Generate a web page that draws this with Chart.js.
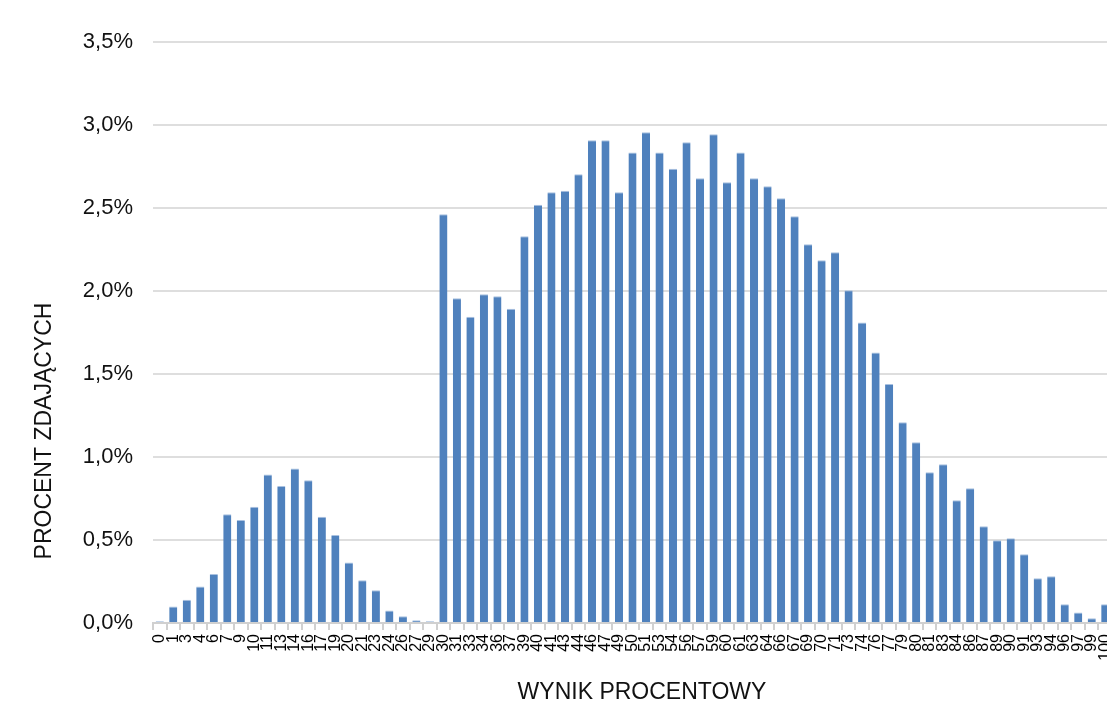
<!DOCTYPE html>
<html lang="pl">
<head>
<meta charset="utf-8">
<title>Wynik procentowy</title>
<script src="https://cdn.jsdelivr.net/npm/chart.js@4/dist/chart.umd.min.js"></script>
<style>
  html, body { margin: 0; padding: 0; background: #fff; overflow: hidden; }
  #wrap { position: relative; width: 1112px; height: 725px; }
</style>
</head>
<body>
<div id="wrap"><canvas id="chart"></canvas></div>
<script>
// wyniki procentowe (kategorie osi X)
const scores = [
  '0', '1', '3', '4', '6', '7', '9', '10', '11', '13', '14', '16', '17', '19',
  '20', '21', '23', '24', '26', '27', '29', '30', '31', '33', '34', '36', '37', '39',
  '40', '41', '43', '44', '46', '47', '49', '50', '51', '53', '54', '56', '57', '59',
  '60', '61', '63', '64', '66', '67', '69', '70', '71', '73', '74', '76', '77', '79',
  '80', '81', '83', '84', '86', '87', '89', '90', '91', '93', '94', '96', '97', '99',
  '100',
];

// procent zdających dla każdego wyniku
const shares = [
  0.01, 0.10, 0.14, 0.22, 0.295, 0.655, 0.62, 0.70, 0.895, 0.825, 0.93, 0.86, 0.64, 0.53,
  0.365, 0.257, 0.197, 0.076, 0.04, 0.016, 0.01, 2.462, 1.956, 1.845, 1.98, 1.968, 1.893, 2.33,
  2.52, 2.595, 2.604, 2.703, 2.908, 2.908, 2.595, 2.835, 2.956, 2.835, 2.737, 2.896, 2.679, 2.944,
  2.655, 2.835, 2.679, 2.631, 2.558, 2.45, 2.281, 2.185, 2.233, 2.004, 1.81, 1.63, 1.44, 1.209,
  1.089, 0.908, 0.956, 0.739, 0.811, 0.583, 0.498, 0.51, 0.414, 0.269, 0.281, 0.113, 0.064, 0.028,
  0.113,
];

// oś Y
const yMax = 3.5;
const yStep = 0.5;

const xTitle = 'WYNIK PROCENTOWY';
const yTitle = 'PROCENT ZDAJĄCYCH';

const textFont = "'Liberation Sans', Arial, sans-serif";

// Tytuły osi rysowane w stałych miejscach (jak w oryginale)
const axisTitles = {
  id: 'axisTitles',
  afterDraw(chart) {
    const { ctx } = chart;
    ctx.save();
    ctx.fillStyle = '#111';
    ctx.font = `23px ${textFont}`;
    ctx.textAlign = 'center';
    ctx.textBaseline = 'middle';
    ctx.fillText(xTitle, 642, 693);
    ctx.translate(45, 431);
    ctx.rotate(-Math.PI / 2);
    ctx.fillText(yTitle, 0, 0);
    ctx.restore();
  },
};

new Chart(document.getElementById('chart'), {
  type: 'bar',
  data: {
    labels: scores,
    datasets: [
      {
        data: shares,
        backgroundColor: '#4f81bd',
        borderColor: '#a9c1e0',
        borderWidth: { top: 1, right: 0, bottom: 0, left: 0 },
        borderSkipped: 'start',
        barPercentage: 0.6,
        categoryPercentage: 1,
      },
    ],
  },
  options: {
    responsive: true,
    maintainAspectRatio: false,
    animation: false,
    layout: {
      padding: { top: 42, right: 0, bottom: 0, left: 0 },
    },
    plugins: {
      legend: { display: false },
      tooltip: { enabled: false },
    },
    scales: {
      x: {
        afterFit(scale) {
          // etykieta "100" ma wychodzić poza obszar, jak w oryginale
          scale.height = 102;
          scale.paddingLeft = 0;
          scale.paddingRight = 0;
        },
        ticks: {
          autoSkip: false,
          minRotation: 90,
          maxRotation: 90,
          padding: 4,
          color: '#000',
          font: { family: textFont, size: 16 },
        },
        grid: {
          drawOnChartArea: false,
          drawTicks: true,
          tickLength: 7,
          color: '#d0d0d0',
          lineWidth: 2,
        },
        border: {
          display: true,
          color: '#d0d0d0',
          width: 2,
        },
      },
      y: {
        min: 0,
        max: yMax,
        afterFit(scale) {
          scale.width = 153;
        },
        ticks: {
          stepSize: yStep,
          padding: 20,
          color: '#111',
          font: { family: textFont, size: 22 },
          callback: (v) => v.toFixed(1).replace('.', ',') + '%',
        },
        grid: {
          drawTicks: false,
          color: '#dedede',
          lineWidth: 2,
        },
        border: { display: false },
      },
    },
  },
  plugins: [axisTitles],
});
</script>
</body>
</html>
